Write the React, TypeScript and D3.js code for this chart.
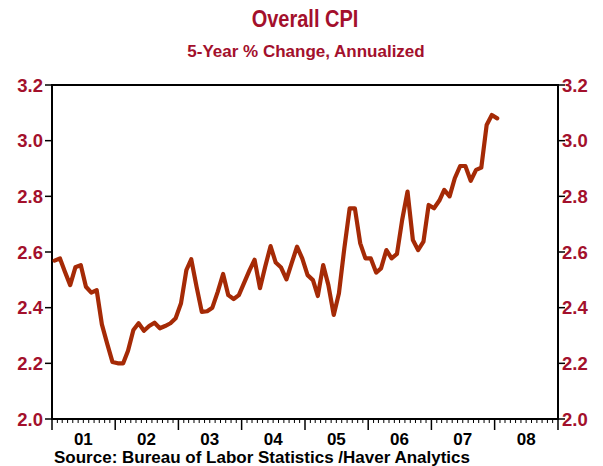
import React from "react";
import * as d3 from "d3";

const W = 603;
const H = 466;

// monthly, Jan 2001 .. Jan 2008
const cpi5yr = [
  2.569, 2.577, 2.53, 2.481, 2.545, 2.553, 2.475, 2.454, 2.463, 2.34, 2.27, 2.205,
  2.2, 2.2, 2.245, 2.32, 2.344, 2.317, 2.334, 2.346, 2.326, 2.334, 2.344, 2.362,
  2.416, 2.535, 2.574, 2.475, 2.385, 2.387, 2.4, 2.457, 2.521, 2.445, 2.431, 2.445,
  2.49, 2.535, 2.572, 2.47, 2.547, 2.621, 2.562, 2.544, 2.502, 2.56, 2.619, 2.577,
  2.517, 2.499, 2.442, 2.553, 2.481, 2.374, 2.452, 2.613, 2.757, 2.757, 2.631, 2.577,
  2.577, 2.526, 2.541, 2.607, 2.577, 2.593, 2.715, 2.817, 2.643, 2.607, 2.637, 2.769,
  2.757, 2.785, 2.823, 2.8, 2.865, 2.909, 2.909, 2.856, 2.895, 2.903, 3.056, 3.092,
  3.08,
];
const yTicks = [2.0, 2.2, 2.4, 2.6, 2.8, 3.0, 3.2];
const yearLabels = ["01", "02", "03", "04", "05", "06", "07", "08"];

const TITLE = "Overall CPI";
const SUBTITLE = "5-Year % Change, Annualized";
const SOURCE = "Source:  Bureau of Labor Statistics /Haver Analytics";

const RED = "#a3102c";
const LINE = "#a52a06";
const FONT = "'Liberation Sans', Arial, sans-serif";

const left = 52, right = 558, top = 85, bottom = 419;

export default function App() {
  const x = d3.scaleTime()
    .domain([new Date(2001, 0, 1), new Date(2009, 0, 1)])
    .range([left, right]);
  const y = d3.scaleLinear().domain([2.0, 3.2]).range([bottom, top]);

  const pts = cpi5yr.map((v, i) => ({ d: new Date(2001, i, 16), v }));
  const line = d3.line<{ d: Date; v: number }>()
    .x(p => x(p.d))
    .y(p => y(p.v));

  const months = d3.timeMonth.range(new Date(2001, 0, 1), new Date(2009, 0, 2));
  const years = d3.timeYear.range(new Date(2001, 0, 1), new Date(2009, 0, 1));

  return (
    <svg width={W} height={H} style={{ position: "absolute", left: 0, top: 0, background: "#fff" }}
      fontFamily={FONT} fontWeight="bold">
      <text x={305} y={27} textAnchor="middle" fill={RED} fontSize={20}
        transform="translate(0,27) scale(1,1.15) translate(0,-27)">{TITLE}</text>
      <text x={306} y={57} textAnchor="middle" fill={RED} fontSize={17}>{SUBTITLE}</text>

      {/* y ticks both sides */}
      {yTicks.map(t => (
        <g key={t}>
          <line x1={left - 7} x2={left} y1={y(t)} y2={y(t)} stroke="#000" strokeWidth={1.5} />
          <line x1={right} x2={right + 7} y1={y(t)} y2={y(t)} stroke="#000" strokeWidth={1.5} />
          <text x={left - 9} y={y(t)} dy="0.36em" textAnchor="end" fill={RED} fontSize={18.5}>{t.toFixed(1)}</text>
          <text x={right + 4} y={y(t)} dy="0.36em" textAnchor="start" fill={RED} fontSize={18.5}>{t.toFixed(1)}</text>
        </g>
      ))}

      {/* x ticks */}
      {months.map((m, i) => {
        const major = m.getMonth() === 0;
        return (
          <line key={i} x1={x(m)} x2={x(m)} y1={bottom} y2={bottom + (major ? 11 : 4)}
            stroke="#000" strokeWidth={major ? 1.5 : 1} />
        );
      })}
      {years.map((yr, i) => (
        <text key={i} x={x(d3.timeMonth.offset(yr, 6))} y={445} textAnchor="middle" fill="#000" fontSize={17}>
          {yearLabels[i]}
        </text>
      ))}

      <rect x={left} y={top} width={right - left} height={bottom - top} fill="none" stroke="#000" strokeWidth={2} />

      <path d={line(pts) || ""} fill="none" stroke={LINE} strokeWidth={4.2} strokeLinejoin="round" strokeLinecap="round" />

      <text x={54} y={463} fill="#000" fontSize={17}>{SOURCE}</text>
    </svg>
  );
}
